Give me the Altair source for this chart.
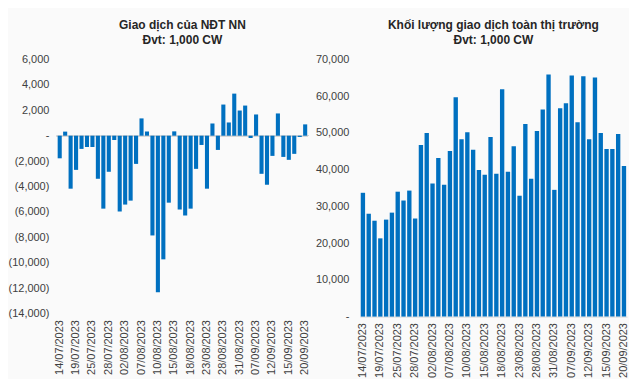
import altair as alt
import pandas as pd

dates = [
    "14/07/2023", "17/07/2023", "18/07/2023", "19/07/2023", "20/07/2023", "21/07/2023",
    "25/07/2023", "26/07/2023", "27/07/2023", "28/07/2023", "31/07/2023", "01/08/2023",
    "02/08/2023", "03/08/2023", "04/08/2023", "07/08/2023", "08/08/2023", "09/08/2023",
    "10/08/2023", "11/08/2023", "14/08/2023", "15/08/2023", "16/08/2023", "17/08/2023",
    "18/08/2023", "21/08/2023", "22/08/2023", "23/08/2023", "24/08/2023", "25/08/2023",
    "28/08/2023", "29/08/2023", "30/08/2023", "31/08/2023", "05/09/2023", "06/09/2023",
    "07/09/2023", "08/09/2023", "11/09/2023", "12/09/2023", "13/09/2023", "14/09/2023",
    "15/09/2023", "18/09/2023", "19/09/2023", "20/09/2023",
]

foreign_net = [
    -1780, 320, -4170, -2690, -1040, -890, -890, -3390, -5740, -2840,
    -340, -5970, -5420, -5110, -2220, 1360, 330, -7850, -12310, -9730,
    -5270, 340, -5810, -6280, -5740, -2610, -730, -4170, 960, -1120,
    2450, 1040, 3310, 1980, 2370, -180, 1670, -3000, -3860, -1590,
    1750, -1670, -1900, -1430, -100, 890,
]

market_volume = [
    33700, 28000, 26100, 21300, 26400, 28300, 34000, 31600, 34300, 26700,
    46700, 50000, 36200, 43200, 35900, 45100, 59700, 48300, 50200, 45400,
    39900, 38600, 48900, 38900, 61900, 39400, 46400, 32900, 52400, 37500,
    50500, 56400, 65900, 34500, 56700, 58100, 65600, 52900, 65400, 48300,
    65100, 50000, 45600, 45600, 49700, 41000,
]

shown_labels = dates[::3]
left_ticks = list(range(-14000, 6001, 2000))
right_ticks = list(range(0, 70001, 10000))

left_title = ["Giao dịch của NĐT NN", "Đvt: 1,000 CW"]
right_title = ["Khối lượng giao dịch toàn thị trường", "Đvt: 1,000 CW"]

df = pd.DataFrame({"date": dates, "net": foreign_net, "vol": market_volume})

FONT = "Liberation Sans"
BLUE = "#0070C0"
NB = "\u00a0"


def x_enc(domain_line):
    return alt.X(
        "date:N",
        sort=dates,
        scale=alt.Scale(paddingInner=0.25, paddingOuter=0.15),
        axis=alt.Axis(
            values=shown_labels,
            labelAngle=-90,
            ticks=False,
            domain=domain_line,
            domainColor="#d9d9d9",
            labelPadding=6,
            labelFontSize=11,
            labelFont=FONT,
            labelColor="#404040",
            labelOverlap=False,
            title=None,
        ),
    )


def y_axis(values, expr, pad):
    return alt.Axis(
        values=values,
        labelExpr=expr,
        grid=False,
        ticks=False,
        domain=False,
        labelPadding=pad,
        labelFontSize=11,
        labelFont=FONT,
        labelColor="#404040",
        labelOverlap=False,
        labelBound=False,
        title=None,
    )


def title_params(lines):
    return alt.TitleParams(
        lines,
        font=FONT,
        fontSize=12,
        fontWeight="bold",
        color="#262626",
        anchor="middle",
        lineHeight=16,
        offset=6,
    )


left_expr = (
    "datum.value == 0 ? '-" + NB * 3 + "' : (datum.value < 0 ? '(' + format(-datum.value, ',') + ')'"
    " : format(datum.value, ',') + '" + NB + "')"
)
right_expr = "datum.value == 0 ? '-" + NB * 2 + "' : format(datum.value, ',') + '" + NB + "'"

left_scale = alt.Scale(domain=[-14000, 6000], nice=False)

left_base = alt.Chart(df)
zero_rule = left_base.mark_rule(color="#d9d9d9", strokeWidth=1).encode(
    y=alt.YDatum(0, type="quantitative", scale=left_scale, axis=y_axis(left_ticks, left_expr, 8))
)
left_bars = left_base.mark_bar(color=BLUE).encode(
    x=x_enc(False),
    y=alt.Y("net:Q", scale=left_scale, axis=y_axis(left_ticks, left_expr, 8)),
)
left = alt.layer(zero_rule, left_bars).properties(
    width=252, height=255, title=title_params(left_title)
)

right = alt.Chart(df).mark_bar(color=BLUE).encode(
    x=x_enc(True),
    y=alt.Y(
        "vol:Q",
        scale=alt.Scale(domain=[0, 70000], nice=False),
        axis=y_axis(right_ticks, right_expr, 11),
    ),
).properties(width=268, height=258, title=title_params(right_title))

chart = (
    alt.hconcat(left, right, spacing=5)
    .properties(background="#fafafa", padding={"left": 0, "top": 10, "right": 0, "bottom": 0})
    .configure_view(stroke=None)
    .configure_axis(labelOverlap=False)
)

chart.save("out.html", embed_options={"renderer": "svg", "actions": False})
